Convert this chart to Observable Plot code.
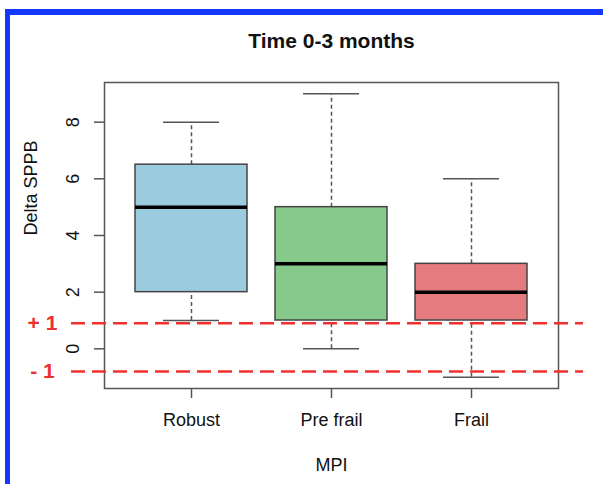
<!DOCTYPE html>
<html>
<head>
<meta charset="utf-8">
<script src="https://cdn.jsdelivr.net/npm/d3@7"></script>
<script src="https://cdn.jsdelivr.net/npm/@observablehq/plot@0.6"></script>
<style>
  html, body { margin: 0; padding: 0; background: #fff; }
  #wrap { position: relative; width: 603px; height: 484px; overflow: hidden; }
  #border { position: absolute; left: 5px; top: 9px; right: -20px; bottom: -20px;
            border-left: 5px solid #1438ff; border-top: 6px solid #1438ff; pointer-events: none; }
</style>
</head>
<body>
<div id="wrap"><div id="border"></div></div>
<script>
const categories = ["Robust", "Pre frail", "Frail"];
const mins    = [1, 0, -1];
const q1s     = [2, 1, 1];
const medians = [5, 3, 2];
const q3s     = [6.5, 5, 3];
const maxs    = [8, 9, 6];
const yTicks  = [0, 2, 4, 6, 8];
const refValues = [0.9, -0.8];
const refLabels = ["+ 1", "- 1"];

const boxes = categories.map((c, i) => ({cat: c, min: mins[i], q1: q1s[i], med: medians[i], q3: q3s[i], max: maxs[i]}));
const refs = refValues.map((v, i) => ({v, label: refLabels[i]}));

const font = "Liberation Sans, Arial, sans-serif";

const chart = Plot.plot({
  width: 603,
  height: 484,
  marginLeft: 104,
  marginRight: 45,
  marginTop: 82,
  marginBottom: 96,
  style: {fontFamily: font, fontSize: "18px", color: "#111", background: "transparent"},
  x: {type: "band", domain: categories, paddingInner: 0.2, paddingOuter: 0.2214, label: null},
  y: {domain: [-1.4, 9.4], label: null},
  color: {domain: categories, range: ["#9bccdd", "#87c98a", "#e57b7e"]},
  marks: [
    Plot.axisY({ticks: yTicks, tickSize: 10, tickPadding: 16, tickRotate: -90, stroke: "#555", strokeWidth: 1.5, fontSize: 18, label: null}),
    Plot.axisX({tickSize: 10, tickPadding: 15, stroke: "#555", strokeWidth: 1.5, fontSize: 18, label: null}),
    Plot.ruleX(boxes, {x: "cat", y1: "q3", y2: "max", stroke: "#555", strokeWidth: 1.5, strokeDasharray: "4,3"}),
    Plot.ruleX(boxes, {x: "cat", y1: "min", y2: "q1", stroke: "#555", strokeWidth: 1.5, strokeDasharray: "4,3"}),
    Plot.tickY(boxes, {x: "cat", y: "max", stroke: "#555", strokeWidth: 1.5, insetLeft: 28, insetRight: 28}),
    Plot.tickY(boxes, {x: "cat", y: "min", stroke: "#555", strokeWidth: 1.5, insetLeft: 28, insetRight: 28}),
    Plot.barY(boxes, {x: "cat", y1: "q1", y2: "q3", fill: "cat", stroke: "#444", strokeWidth: 1.5}),
    Plot.tickY(boxes, {x: "cat", y: "med", stroke: "#000", strokeWidth: 3.5}),
    Plot.frame({stroke: "#555", strokeWidth: 1.5}),
    Plot.ruleY(refs, {y: "v", stroke: "#f03030", strokeWidth: 2.5, strokeDasharray: "14,7", insetLeft: -33, insetRight: -25}),
    Plot.text(refs, {y: "v", text: "label", frameAnchor: "left", dx: -62, textAnchor: "middle", fill: "#f03030", fontWeight: "bold", fontSize: 21}),
    Plot.text(["Time 0-3 months"], {frameAnchor: "top", lineAnchor: "bottom", dy: -35, fontWeight: "bold", fontSize: 21, fill: "#111"}),
    Plot.text(["Delta SPPB"], {frameAnchor: "left", dx: -73, rotate: -90, fontSize: 18, fill: "#111"}),
    Plot.text(["MPI"], {frameAnchor: "bottom", lineAnchor: "bottom", dy: 82, fontSize: 18, fill: "#111"})
  ]
});
document.getElementById("wrap").prepend(chart);
</script>
</body>
</html>
